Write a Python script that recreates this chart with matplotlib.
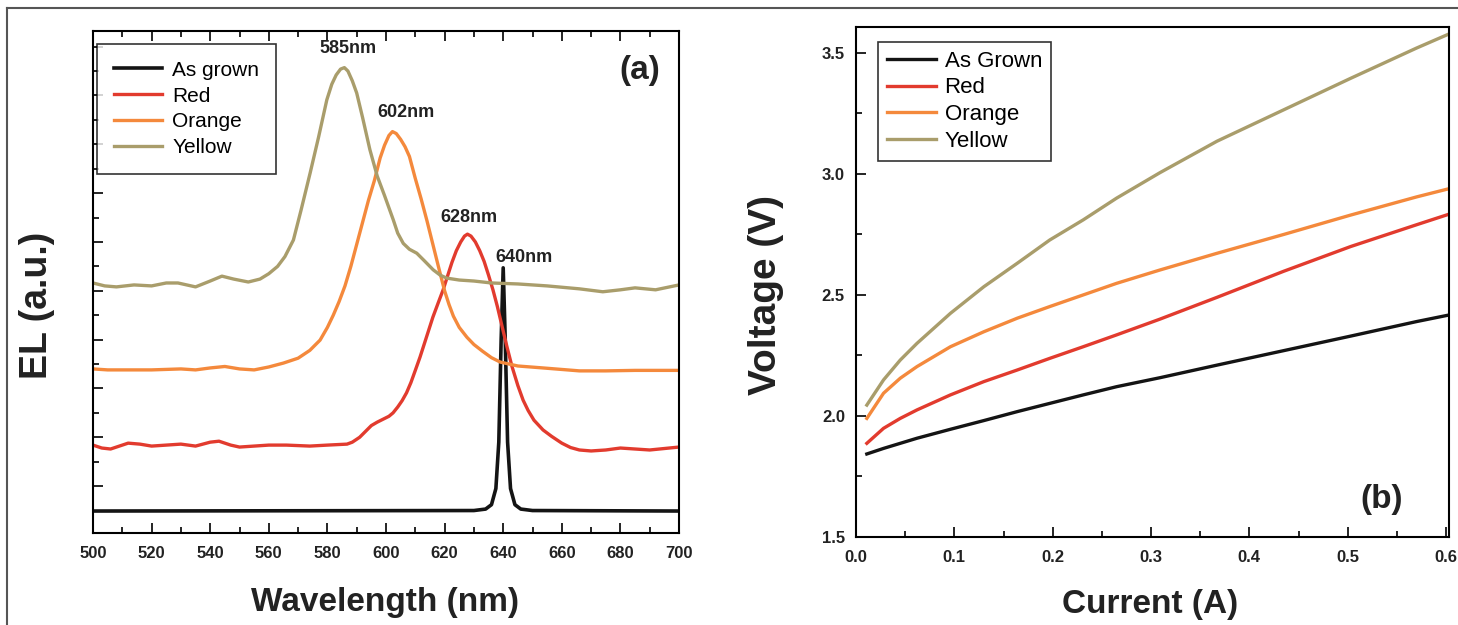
import numpy as np
import matplotlib
matplotlib.use('Agg')
import matplotlib.pyplot as plt
from matplotlib.ticker import MultipleLocator, NullFormatter
from matplotlib.lines import Line2D

plt.rcParams['font.family'] = ['Liberation Sans', 'DejaVu Sans']

# PANEL (a) DATA : EL spectra (wavelength nm, arbitrary offset intensity)
yellow_wl = [500, 504, 508, 514, 520, 525, 529, 535, 540, 544, 548, 553, 557, 560, 563, 565.5,
             568.4, 571, 574.1, 577, 579.8, 581.5, 583, 584.5, 585.8, 587, 588.5, 590, 592,
             594.5, 597, 599.5, 602.5, 604, 605.9, 608, 610.5, 613, 616.1, 618.5, 620.7, 625,
             630, 636, 645, 655, 666, 674, 680, 685, 692, 700]
yellow_el = [5.16, 5.10, 5.08, 5.12, 5.10, 5.16, 5.16, 5.08, 5.20, 5.30, 5.24, 5.18, 5.24, 5.35, 5.50, 5.70,
             6.04, 6.65, 7.41, 8.15, 8.91, 9.23, 9.42, 9.54, 9.57, 9.50, 9.30, 9.05, 8.55,
             7.89, 7.35, 6.95, 6.45, 6.18, 5.97, 5.85, 5.77, 5.62, 5.43, 5.32, 5.26, 5.22,
             5.20, 5.16, 5.14, 5.10, 5.04, 4.98, 5.02, 5.06, 5.02, 5.12]

orange_wl = [500, 505, 510, 520, 530, 535, 540, 545, 550, 555, 560, 565, 570, 574, 577.5, 580,
             582, 584, 586, 588, 590, 592, 594, 596, 598, 599.5, 601, 602.2, 603.5, 605, 606.5,
             608, 610, 612, 614, 616, 618, 620, 621.5, 623, 625, 627.6, 630, 633, 636, 639,
             645, 653.6, 666, 675, 685, 700]
orange_el = [3.40, 3.38, 3.38, 3.38, 3.40, 3.38, 3.42, 3.45, 3.40, 3.38, 3.44, 3.52, 3.62, 3.78, 3.99, 4.25,
             4.50, 4.78, 5.10, 5.50, 5.95, 6.40, 6.85, 7.25, 7.72, 7.98, 8.18, 8.26, 8.22, 8.10, 7.95,
             7.75, 7.30, 6.88, 6.43, 5.95, 5.47, 5.00, 4.72, 4.48, 4.25, 4.05, 3.90, 3.76, 3.63, 3.54,
             3.46, 3.42, 3.36, 3.36, 3.37, 3.37]

red_wl = [500, 503, 506, 512, 516, 520, 525, 530, 535, 540, 543, 547, 550, 555, 560, 566, 574,
          580, 586.7, 588.5, 591, 593, 595, 597, 599, 601, 602.4, 604, 605.5, 607, 608.5, 610,
          611.6, 613, 614.5, 616, 617.8, 619.5, 621, 622.5, 624, 625.5, 626.8, 627.8, 629,
          630.5, 632, 633.5, 635, 636.5, 638, 639.5, 641.3, 643, 645, 646.8, 648.5, 650.5,
          653.6, 656.5, 660, 663, 666, 670, 675, 680, 685, 690, 700]
red_el = [1.84, 1.78, 1.76, 1.88, 1.86, 1.82, 1.84, 1.86, 1.82, 1.90, 1.92, 1.84, 1.80, 1.82, 1.84, 1.84, 1.82,
          1.84, 1.86, 1.90, 2.00, 2.12, 2.24, 2.31, 2.37, 2.43, 2.50, 2.62, 2.75, 2.91, 3.12, 3.37,
          3.64, 3.90, 4.18, 4.46, 4.75, 5.02, 5.30, 5.58, 5.82, 6.00, 6.12, 6.16, 6.12,
          6.00, 5.82, 5.60, 5.32, 5.02, 4.68, 4.30, 3.85, 3.45, 3.06, 2.76, 2.55, 2.35,
          2.15, 2.02, 1.88, 1.79, 1.74, 1.72, 1.74, 1.78, 1.76, 1.74, 1.80]

black_wl = [500, 630, 634, 636, 637.5, 638.5, 639.3, 640, 640.7, 641.5, 642.5, 644, 646, 650, 700]
black_el = [0.49, 0.50, 0.53, 0.62, 0.95, 1.9, 4.0, 5.47, 4.0, 1.9, 0.95, 0.62, 0.53, 0.50, 0.49]

peak_labels = ['585nm', '602nm', '628nm', '640nm']
peak_x = [587, 606.8, 628.3, 647]
peak_y = [9.96, 8.66, 6.51, 5.69]

# PANEL (b) DATA : I-V curves
current = [0.011, 0.028, 0.045, 0.062, 0.096, 0.130, 0.164, 0.197, 0.231, 0.265, 0.309,
           0.367, 0.435, 0.503, 0.570, 0.604]
v_grown = [1.843, 1.866, 1.887, 1.908, 1.945, 1.981, 2.018, 2.052, 2.087, 2.121, 2.158,
           2.210, 2.270, 2.330, 2.390, 2.418]
v_red = [1.887, 1.949, 1.990, 2.025, 2.087, 2.142, 2.190, 2.238, 2.286, 2.335, 2.400,
         2.490, 2.598, 2.700, 2.790, 2.835]
v_orange = [1.990, 2.094, 2.156, 2.204, 2.286, 2.348, 2.404, 2.452, 2.500, 2.548, 2.603,
            2.672, 2.750, 2.830, 2.905, 2.940]
v_yellow = [2.045, 2.149, 2.231, 2.300, 2.424, 2.534, 2.631, 2.727, 2.810, 2.900, 3.005,
            3.135, 3.265, 3.395, 3.520, 3.580]

c_black = '#141414'
c_red = '#e23b2e'
c_orange = '#f4893c'
c_yellow = '#a99d6b'

fig = plt.figure(figsize=(14.58, 6.25), dpi=100)

# outer frame (only top and left visible)
fig.add_artist(Line2D([7/1458, 1.0], [1 - 8/625, 1 - 8/625], color='#555555', lw=1.5, transform=fig.transFigure))
fig.add_artist(Line2D([7/1458, 7/1458], [0.0, 1 - 8/625], color='#555555', lw=1.5, transform=fig.transFigure))

# ---- panel (a)
ax1 = fig.add_axes([93/1458, 1 - 533/625, 586/1458, 502/625])
lw = 2.4
ax1.plot(black_wl, black_el, color=c_black, lw=2.6, label='As grown')
ax1.plot(red_wl, red_el, color=c_red, lw=lw, label='Red')
ax1.plot(orange_wl, orange_el, color=c_orange, lw=lw, label='Orange')
ax1.plot(yellow_wl, yellow_el, color=c_yellow, lw=lw, label='Yellow')

ax1.set_xlim(500, 700)
ax1.set_ylim(0.04, 10.32)
ax1.xaxis.set_major_locator(MultipleLocator(20))
ax1.xaxis.set_minor_locator(MultipleLocator(10))
ax1.yaxis.set_major_locator(MultipleLocator(1))
ax1.yaxis.set_minor_locator(MultipleLocator(0.5))
ax1.yaxis.set_major_formatter(NullFormatter())
ax1.tick_params(which='both', direction='in', top=True, right=False, width=1.2)
ax1.tick_params(which='major', length=7, pad=9)
ax1.tick_params(which='minor', length=4)
for lab in ax1.get_xticklabels():
    lab.set_fontweight('bold')
    lab.set_fontsize(12)
    lab.set_color('#222222')
for s in ax1.spines.values():
    s.set_linewidth(1.5)

for t, x, y in zip(peak_labels, peak_x, peak_y):
    ax1.text(x, y, t, ha='center', va='center', fontsize=13, fontweight='bold', color='#222222')
ax1.text(0.933, 0.922, '(a)', transform=ax1.transAxes, ha='center', va='center',
         fontsize=24, fontweight='bold', color='#222222')

leg1 = ax1.legend(loc='upper left', bbox_to_anchor=(0.007, 0.974), borderaxespad=0,
                  fancybox=False, edgecolor='black', fontsize=15, handlelength=2.3,
                  labelspacing=0.33, borderpad=0.8, handletextpad=0.5)
leg1.get_frame().set_linewidth(1.2)

# ---- panel (b)
ax2 = fig.add_axes([856/1458, 1 - 537/625, 593/1458, 510/625])
ax2.plot(current, v_grown, color=c_black, lw=lw, label='As Grown')
ax2.plot(current, v_red, color=c_red, lw=lw, label='Red')
ax2.plot(current, v_orange, color=c_orange, lw=lw, label='Orange')
ax2.plot(current, v_yellow, color=c_yellow, lw=lw, label='Yellow')

ax2.set_xlim(0, 0.603)
ax2.set_ylim(1.5, 3.607)
ax2.xaxis.set_major_locator(MultipleLocator(0.1))
ax2.xaxis.set_minor_locator(MultipleLocator(0.05))
ax2.yaxis.set_major_locator(MultipleLocator(0.5))
ax2.yaxis.set_minor_locator(MultipleLocator(0.25))
ax2.tick_params(which='both', direction='in', top=False, right=False, width=1.2)
ax2.tick_params(which='major', length=7, pad=9)
ax2.tick_params(which='minor', length=4)
ax2.tick_params(axis='y', which='major', pad=8)
for lab in ax2.get_xticklabels() + ax2.get_yticklabels():
    lab.set_fontweight('bold')
    lab.set_fontsize(12)
    lab.set_color('#222222')
for s in ax2.spines.values():
    s.set_linewidth(1.5)

ax2.text(0.887, 0.073, '(b)', transform=ax2.transAxes, ha='center', va='center',
         fontsize=24, fontweight='bold', color='#222222')

leg2 = ax2.legend(loc='upper left', bbox_to_anchor=(0.037, 0.971), borderaxespad=0,
                  fancybox=False, edgecolor='black', fontsize=16, handlelength=2.2,
                  labelspacing=0.26, borderpad=0.4, handletextpad=0.4)
leg2.get_frame().set_linewidth(1.2)

# axis labels
fig.text(37/1458, 1 - 305/625, 'EL (a.u.)', rotation=90, ha='center', va='center',
         fontsize=27, fontweight='bold', color='#222222')
fig.text(385/1458, 1 - 603/625, 'Wavelength (nm)', ha='center', va='center',
         fontsize=24, fontweight='bold', color='#222222')
fig.text(766/1458, 1 - 295/625, 'Voltage (V)', rotation=90, ha='center', va='center',
         fontsize=28, fontweight='bold', color='#222222')
fig.text(1150/1458, 1 - 605/625, 'Current (A)', ha='center', va='center',
         fontsize=24, fontweight='bold', color='#222222')

fig.savefig('out.png', dpi=100)
